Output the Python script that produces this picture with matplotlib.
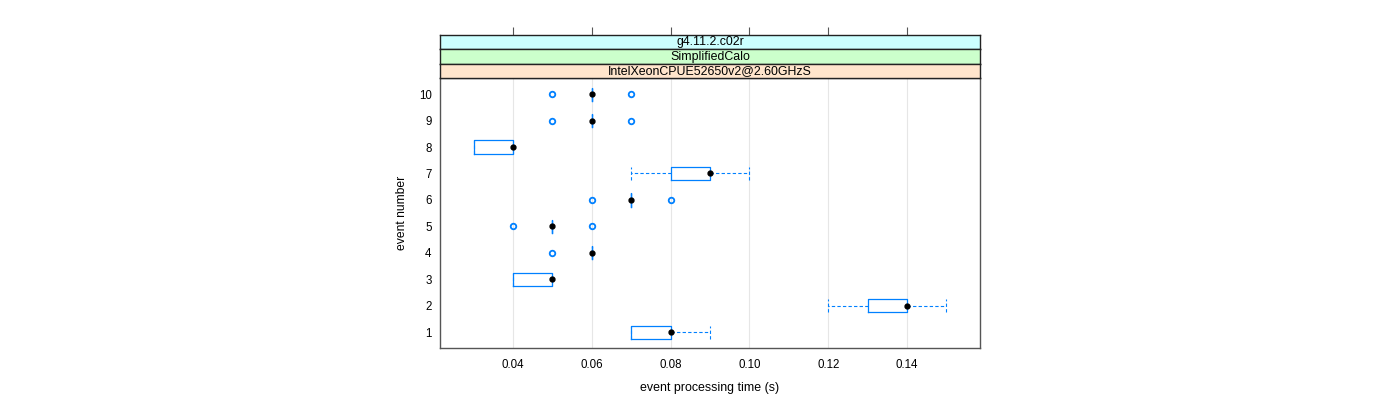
import matplotlib
matplotlib.use("Agg")
import matplotlib.pyplot as plt

plt.rcParams['font.family'] = ['Liberation Sans', 'DejaVu Sans']

# per-event box statistics (seconds)
events = [1, 2, 3, 4, 5, 6, 7, 8, 9, 10]
whislo = [0.07, 0.12, 0.04, 0.06, 0.05, 0.07, 0.07, 0.03, 0.06, 0.06]
q1 = [0.07, 0.13, 0.04, 0.06, 0.05, 0.07, 0.08, 0.03, 0.06, 0.06]
med = [0.08, 0.14, 0.05, 0.06, 0.05, 0.07, 0.09, 0.04, 0.06, 0.06]
q3 = [0.08, 0.14, 0.05, 0.06, 0.05, 0.07, 0.09, 0.04, 0.06, 0.06]
whishi = [0.09, 0.15, 0.05, 0.06, 0.05, 0.07, 0.10, 0.04, 0.06, 0.06]
outliers = [[], [], [], [0.05], [0.04, 0.06], [0.06, 0.08], [], [], [0.05, 0.07], [0.05, 0.07]]

strip_labels = ["g4.11.2.c02r", "SimplifiedCalo", "IntelXeonCPUE52650v2@2.60GHzS"]
strip_colors = ["#ccffff", "#ccffcc", "#ffe5cc"]
xticks = [0.04, 0.06, 0.08, 0.10, 0.12, 0.14]

blue = "#0080ff"

fig = plt.figure(figsize=(14, 4), dpi=100)
ax = fig.add_axes([440 / 1400, 1 - 348 / 400, 540 / 1400, (348 - 78.3) / 400])

stats = []
for i in range(len(events)):
    stats.append(dict(whislo=whislo[i], q1=q1[i], med=med[i], q3=q3[i],
                      whishi=whishi[i], fliers=outliers[i], label=str(events[i])))

ax.bxp(stats, positions=events, vert=False, widths=0.5, capwidths=0.5,
       boxprops=dict(color=blue, lw=0.9),
       whiskerprops=dict(color=blue, lw=0.8, ls=(0, (3, 2))),
       capprops=dict(color=blue, lw=0.8, ls=(0, (3, 2))),
       medianprops=dict(visible=False),
       flierprops=dict(marker='o', mfc='none', mec=blue, ms=4, mew=1.3),
       zorder=3)
ax.plot(med, events, 'o', color='black', ms=3.5, zorder=4)

ax.set_xlim(0.0215, 0.1585)
ax.set_ylim(0.4, 10.6)
ax.set_xticks(xticks)
ax.set_xticklabels(["%.2f" % t for t in xticks])
ax.set_yticks(events)
ax.set_yticklabels([str(e) for e in events])
for t in xticks:
    ax.axvline(t, color='#e6e6e6', lw=0.8, zorder=0)
ax.tick_params(axis='both', length=0, labelsize=8.3)
ax.tick_params(axis='x', pad=8)
ax.tick_params(axis='y', pad=6)
for s in ax.spines.values():
    s.set_color('#555555')
    s.set_linewidth(1)
ax.set_xlabel("event processing time (s)", fontsize=8.9, labelpad=8)
ax.set_ylabel("event number", fontsize=8.7, labelpad=8)

# strips above the panel
h = (78.3 - 34.7) / 3
for k in range(3):
    top = 34.7 + k * h
    sax = fig.add_axes([440 / 1400, 1 - (top + h) / 400, 540 / 1400, h / 400], sharex=ax)
    sax.set_facecolor(strip_colors[k])
    sax.set_yticks([])
    sax.text(0.5, 0.47, strip_labels[k], transform=sax.transAxes, ha='center', va='center', fontsize=8.9)
    for s in sax.spines.values():
        s.set_color('#222222')
        s.set_linewidth(1)
    if k == 0:
        sax.tick_params(axis='x', top=True, bottom=False, labeltop=False, labelbottom=False,
                        direction='out', length=6, color='#555555')
    else:
        sax.tick_params(axis='x', top=False, bottom=False, labeltop=False, labelbottom=False)

fig.savefig("out.png", dpi=100)
